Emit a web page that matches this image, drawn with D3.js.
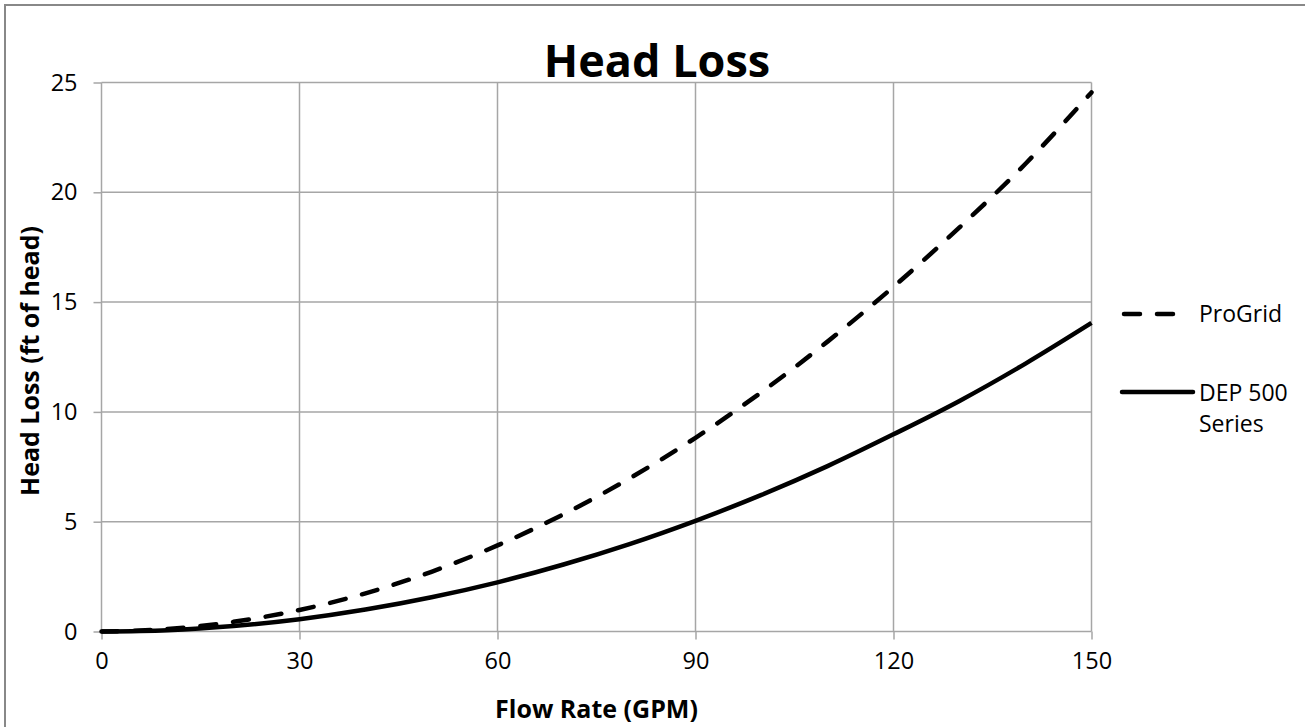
<!DOCTYPE html>
<html>
<head>
<meta charset="utf-8">
<script src="https://cdn.jsdelivr.net/npm/d3@7"></script>
<style>
  html, body { margin: 0; padding: 0; background: #fff; }
  svg { display: block; }
  text { font-family: "Open Sans", "DejaVu Sans", sans-serif; fill: #000; }
</style>
</head>
<body>
<svg id="chart" width="1305" height="727"></svg>
<script>
// ---- data ----
const flowRate = [0, 10, 20, 30, 40, 50, 60, 70, 80, 90, 100, 110, 120, 130, 140, 150];
const proGrid  = [0, 0.11, 0.44, 0.98, 1.74, 2.72, 3.92, 5.34, 6.97, 8.82, 10.9, 13.2, 15.7, 18.4, 21.3, 24.55];
const dep500   = [0, 0.06, 0.25, 0.56, 1.0, 1.56, 2.24, 3.05, 3.98, 5.04, 6.22, 7.53, 8.98, 10.5, 12.2, 14.05];
const xTicks = [0, 30, 60, 90, 120, 150];
const yTicks = [0, 5, 10, 15, 20, 25];
const seriesNames = ["ProGrid", "DEP 500 Series"];
const titleText = "Head Loss";
const xTitle = "Flow Rate (GPM)";
const yTitle = "Head Loss (ft of head)";

const svg = d3.select("#chart");
const W = 1305, H = 727;
const plot = { left: 101.5, right: 1091.5, top: 82.5, bottom: 631.5 };

// outer chart border (only top/left visible in reference)
svg.append("rect")
  .attr("x", 5).attr("y", 5).attr("width", W + 20).attr("height", H + 20)
  .attr("fill", "#fff").attr("stroke", "#888").attr("stroke-width", 2);

const x = d3.scaleLinear().domain([0, 150]).range([plot.left, plot.right]);
const y = d3.scaleLinear().domain([0, 25]).range([plot.bottom, plot.top]);

const gridColor = "#a6a6a6";

// grid lines
svg.append("g").selectAll("line.v").data(xTicks).join("line")
  .attr("x1", d => x(d)).attr("x2", d => x(d))
  .attr("y1", plot.top).attr("y2", plot.bottom)
  .attr("stroke", gridColor).attr("stroke-width", 1.5);
svg.append("g").selectAll("line.h").data(yTicks).join("line")
  .attr("x1", plot.left).attr("x2", plot.right)
  .attr("y1", d => y(d)).attr("y2", d => y(d))
  .attr("stroke", gridColor).attr("stroke-width", 1.5);

// axes
const xAxis = d3.axisBottom(x).tickValues(xTicks).tickSize(8).tickPadding(13).tickFormat(d3.format("d"));
const yAxis = d3.axisLeft(y).tickValues(yTicks).tickSize(8).tickPadding(16).tickFormat(d3.format("d"));

const gx = svg.append("g").attr("transform", `translate(0,${plot.bottom})`).call(xAxis);
const gy = svg.append("g").attr("transform", `translate(${plot.left},0)`).call(yAxis);
[gx, gy].forEach(g => {
  g.select(".domain").remove();
  g.selectAll(".tick line").attr("stroke", gridColor).attr("stroke-width", 1.5);
  g.selectAll(".tick text").style("font-family", '"Open Sans", sans-serif')
    .style("font-size", "23.5px").attr("fill", "#222");
});
gx.selectAll(".tick text").attr("dy", "0.71em");

// lines
const line = d3.line().x((d, i) => x(flowRate[i])).y(d => y(d)).curve(d3.curveMonotoneX);

svg.append("path").datum(dep500)
  .attr("d", line).attr("fill", "none").attr("stroke", "#000")
  .attr("stroke-width", 4.5).attr("stroke-linejoin", "round");

svg.append("path").datum(proGrid)
  .attr("d", line).attr("fill", "none").attr("stroke", "#000")
  .attr("stroke-width", 4.5).attr("stroke-dasharray", "16,17")
  .attr("stroke-linecap", "round");

// title
svg.append("text").attr("x", 657).attr("y", 77)
  .attr("text-anchor", "middle").style("font-size", "45px").style("font-weight", "bold")
  .text(titleText);

// axis titles
svg.append("text").attr("x", (plot.left + plot.right) / 2).attr("y", 718)
  .attr("text-anchor", "middle").style("font-size", "25px").style("font-weight", "bold")
  .text(xTitle);

svg.append("text")
  .attr("transform", `translate(39,${(plot.top + plot.bottom) / 2 + 4}) rotate(-90)`)
  .attr("text-anchor", "middle").style("font-size", "25px").style("font-weight", "bold")
  .text(yTitle);

// legend
const legend = svg.append("g");
legend.append("line").attr("x1", 1124).attr("x2", 1176).attr("y1", 314).attr("y2", 314)
  .attr("stroke", "#000").attr("stroke-width", 4.5).attr("stroke-dasharray", "16,17")
  .attr("stroke-linecap", "round");
legend.append("text").attr("x", 1199).attr("y", 322).style("font-size", "23px").attr("fill", "#222")
  .text(seriesNames[0]);

legend.append("line").attr("x1", 1122).attr("x2", 1193).attr("y1", 392).attr("y2", 392)
  .attr("stroke", "#000").attr("stroke-width", 4.5).attr("stroke-linecap", "round");
const t2 = legend.append("text").attr("x", 1199).attr("y", 401).style("font-size", "23px").attr("fill", "#222");
const parts = seriesNames[1].split(" ");
t2.append("tspan").attr("x", 1199).attr("dy", 0).text(parts[0] + " " + parts[1]);
t2.append("tspan").attr("x", 1199).attr("dy", 31).text(parts[2]);
</script>
</body>
</html>
